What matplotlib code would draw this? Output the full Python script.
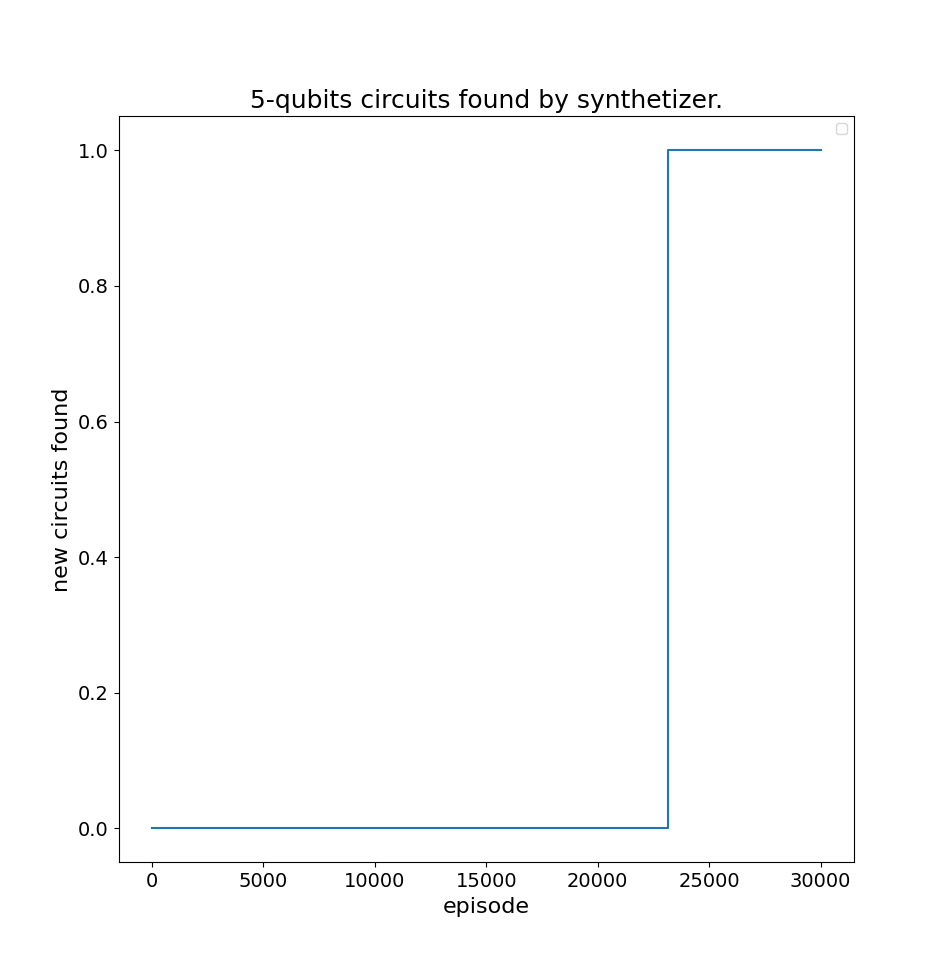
import matplotlib.pyplot as plt

# Episodes where the count changes and the cumulative number of new circuits
episodes = [0, 23150, 30000]
new_circuits = [0, 1, 1]

plt.figure(figsize=(9.49, 9.69), dpi=100)
plt.step(episodes, new_circuits, where='post', color='#1f77b4')
plt.title('5-qubits circuits found by synthetizer.', fontsize=18)
plt.xlabel('episode', fontsize=16)
plt.ylabel('new circuits found', fontsize=16)
plt.xticks(fontsize=14)
plt.yticks(fontsize=14)
plt.legend()
plt.savefig('out.png')
plt.close()
